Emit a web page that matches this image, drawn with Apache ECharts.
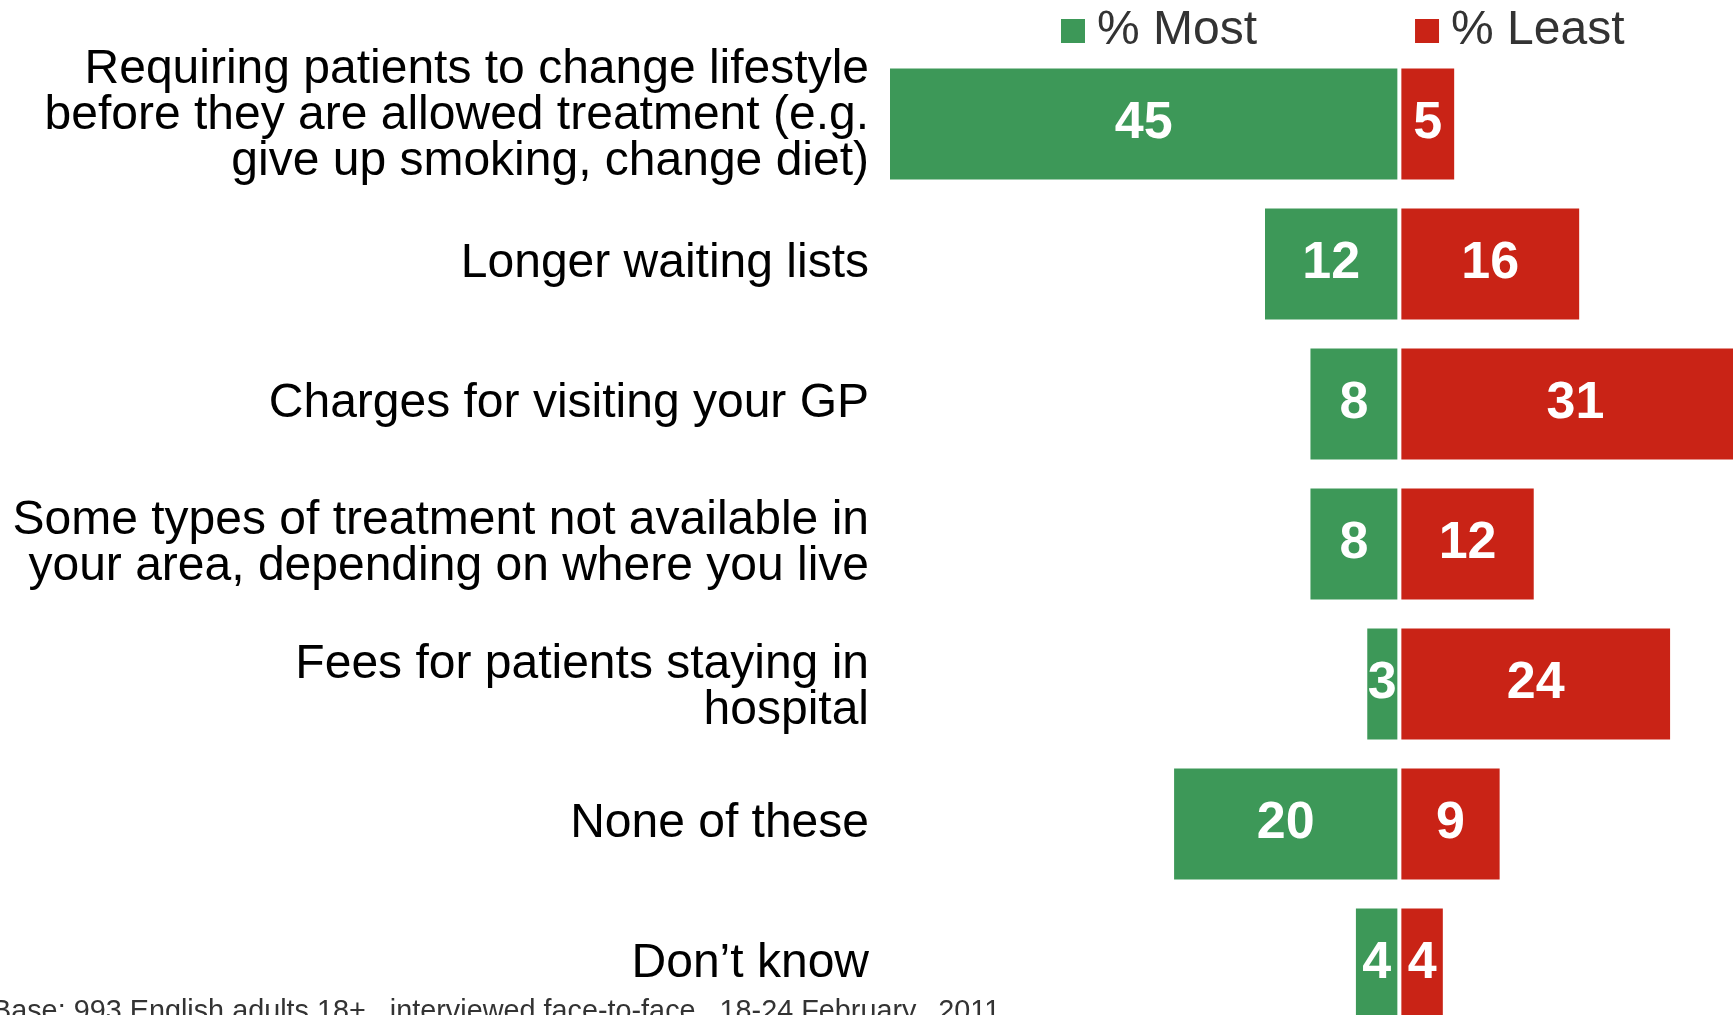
<!DOCTYPE html>
<html>
<head>
<meta charset="utf-8">
<script src="https://cdn.jsdelivr.net/npm/echarts@6/dist/echarts.min.js"></script>
<style>
  html, body { margin: 0; padding: 0; background: #ffffff; overflow: hidden; width: 1733px; height: 1015px; }
  #chart { width: 1763px; height: 1034px; }
</style>
</head>
<body>
<div id="chart"></div>
<script>
const categories = [
  "Requiring patients to change lifestyle\nbefore they are allowed treatment (e.g.\ngive up smoking, change diet)",
  "Longer waiting lists",
  "Charges for visiting your GP",
  "Some types of treatment not available in\nyour area, depending on where you live",
  "Fees for patients staying in\nhospital",
  "None of these",
  "Don\u2019t know"
];
const mostValues = [45, 12, 8, 8, 3, 20, 4];
const leastValues = [5, 16, 31, 12, 24, 9, 4];
const seriesNames = ["% Most", "% Least"];
const footnote = "Base: 993 English adults 18+,  interviewed face-to-face,  18-24 February,  2011";

const GREEN = '#3d9858';
const RED = '#c92316';
const FONT = '"Liberation Sans", Arial, sans-serif';
const NARROW = '"Liberation Sans Narrow", "Arial Narrow", "Liberation Sans", Arial, sans-serif';

const chart = echarts.init(document.getElementById('chart'), null, { renderer: 'canvas' });

const valueLabel = {
  show: true,
  position: 'inside',
  color: '#ffffff',
  fontFamily: NARROW,
  fontWeight: 'bold',
  fontSize: 52,
  formatter: p => String(Math.abs(p.value))
};

// vertical nudges of a few category labels, done with an empty spacer line
function categoryLabel(value, index) {
  if (index === 0) return value + '\n{sp16| }';
  if (index === 4) return '{sp8| }\n' + value;
  return value;
}

chart.setOption({
  animation: false,
  backgroundColor: '#ffffff',
  legend: {
    data: seriesNames,
    left: 1054,
    top: 2,
    icon: 'rect',
    itemWidth: 26,
    itemHeight: 26,
    itemGap: 156,
    textStyle: {
      fontFamily: FONT,
      fontSize: 48,
      color: '#333333',
      padding: [0, 0, 0, 6]
    }
  },
  grid: {
    left: 888,
    right: 0,
    top: 54,
    bottom: 0,
    containLabel: false
  },
  xAxis: {
    type: 'value',
    min: -45,
    max: 32,
    show: false
  },
  yAxis: {
    type: 'category',
    data: categories,
    inverse: true,
    axisLine: { show: false, onZero: false },
    axisTick: { show: false },
    splitLine: { show: false },
    axisLabel: {
      margin: 19,
      fontFamily: FONT,
      fontSize: 48,
      lineHeight: 46,
      color: '#000000',
      align: 'right',
      formatter: categoryLabel,
      rich: {
        sp16: { fontSize: 4, lineHeight: 16 },
        sp8: { fontSize: 4, lineHeight: 8 }
      }
    }
  },
  series: [
    {
      name: seriesNames[0],
      type: 'bar',
      stack: 'total',
      barWidth: 115,
      data: mostValues.map(v => -v),
      itemStyle: { color: GREEN, borderColor: '#ffffff', borderWidth: 2 },
      label: valueLabel
    },
    {
      name: seriesNames[1],
      type: 'bar',
      stack: 'total',
      barWidth: 115,
      data: leastValues,
      itemStyle: { color: RED, borderColor: '#ffffff', borderWidth: 2 },
      label: valueLabel
    }
  ],
  graphic: [
    {
      type: 'text',
      left: -8,
      top: 998,
      style: {
        text: footnote,
        fontFamily: FONT,
        fontSize: 28.8,
        fill: '#333333'
      }
    }
  ]
});
</script>
</body>
</html>
